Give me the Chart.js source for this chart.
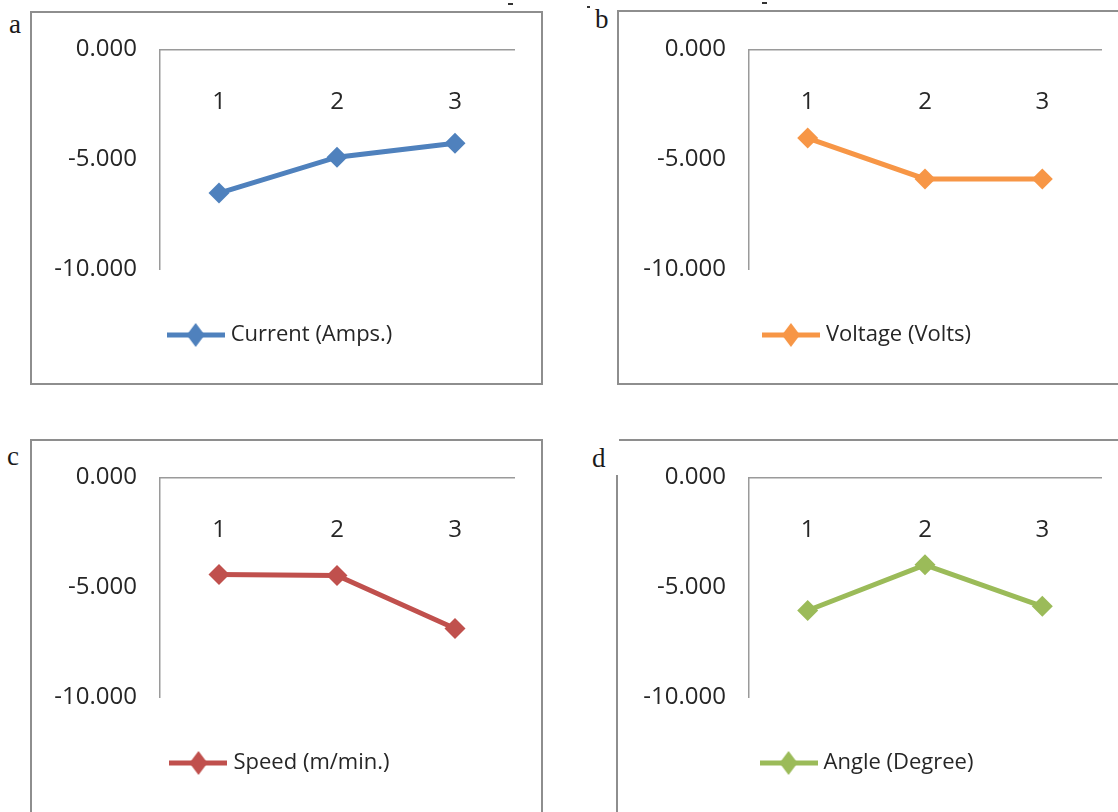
<!DOCTYPE html>
<html>
<head>
<meta charset="utf-8">
<script src="https://cdn.jsdelivr.net/npm/chart.js@4/dist/chart.umd.min.js"></script>
<style>
  html, body { margin: 0; padding: 0; background: #ffffff; width: 1118px; height: 812px; overflow: hidden; }
  .cv { position: absolute; }
  .frame { position: absolute; border-color: #8e8e8e; border-style: solid; border-width: 0; }
  .letter { position: absolute; font-family: 'Liberation Serif', 'DejaVu Serif', serif; font-size: 27px; color: #1a1a1a; line-height: 1; }
  .dash { position: absolute; height: 2px; width: 5px; background: #333; }
</style>
</head>
<body>
<div class="frame" style="left:30px; top:11px; width:509px; height:370px; border-width:2px;"></div>
<div class="frame" style="left:617px; top:10px; width:520px; height:371px; border-width:2px 0 2px 2px;"></div>
<div class="frame" style="left:30px; top:439px; width:509px; height:390px; border-width:2px 2px 0 2px;"></div>
<div class="frame" style="left:619px; top:439px; width:520px; height:0px; border-width:2px 0 0 0;"></div>
<div class="frame" style="left:616px; top:475px; width:0px; height:360px; border-width:0 0 0 2px;"></div>
<div class="dash" style="left:508px; top:3px;"></div>
<div class="dash" style="left:587px; top:6px; width:3px;"></div>
<div class="dash" style="left:762px; top:2px;"></div>

<div class="letter" style="left:9px; top:11px;">a</div>
<div class="letter" style="left:595px; top:6px;">b</div>
<div class="letter" style="left:7px; top:443px;">c</div>
<div class="letter" style="left:592px; top:445px;">d</div>

<canvas id="ca" class="cv" width="491" height="371" style="left:50px; top:12px;"></canvas>
<canvas id="cb" class="cv" width="491" height="371" style="left:637px; top:12px;"></canvas>
<canvas id="cc" class="cv" width="491" height="371" style="left:50px; top:440px;"></canvas>
<canvas id="cd" class="cv" width="491" height="371" style="left:637px; top:440px;"></canvas>

<script>
// ---- data ----
const categories = ['1', '2', '3'];
const currentValues = [-6.54, -4.91, -4.27];
const voltageValues = [-4.04, -5.90, -5.90];
const speedValues   = [-4.42, -4.47, -6.88];
const angleValues   = [-6.06, -3.98, -5.87];
const seriesNames = ['Current (Amps.)', 'Voltage (Volts)', 'Speed (m/min.)', 'Angle (Degree)'];
const yMin = -10;
const yMax = 0;
const yStep = 5;

// ---- styles ----
const colors = ['#4F81BD', '#F79646', '#C0504D', '#9BBB59'];
const FONT = "'Open Sans', 'Liberation Sans', sans-serif";
const AXIS_COLOR = '#9a9a9a';
const TEXT_COLOR = '#262626';

function legendImage(color) {
  const c = document.createElement('canvas');
  c.width = 58; c.height = 26;
  const g = c.getContext('2d');
  g.strokeStyle = color; g.lineWidth = 5;
  g.beginPath(); g.moveTo(0, 13); g.lineTo(58, 13); g.stroke();
  g.fillStyle = color;
  g.beginPath(); g.moveTo(29, 1); g.lineTo(38, 13); g.lineTo(29, 25); g.lineTo(20, 13); g.closePath(); g.fill();
  return c;
}

function makeChart(id, name, values, color, yAxisWidth, padTop) {
  const img = legendImage(color);
  return new Chart(document.getElementById(id), {
    type: 'line',
    data: {
      labels: categories,
      datasets: [{
        label: name,
        data: values,
        borderColor: color,
        backgroundColor: color,
        borderWidth: 5,
        pointStyle: 'rectRot',
        pointRadius: 10.5,
        pointBorderWidth: 0,
        pointBackgroundColor: color,
        tension: 0,
        fill: false
      }]
    },
    options: {
      responsive: false,
      animation: false,
      events: [],
      layout: { padding: { left: 0, right: 27, top: padTop, bottom: 27 } },
      plugins: {
        tooltip: { enabled: false },
        legend: {
          display: true,
          position: 'bottom',
          labels: {
            usePointStyle: true,
            pointStyleWidth: 48,
            padding: 55,
            color: TEXT_COLOR,
            font: { family: FONT, size: 22 },
            generateLabels: (chart) => chart.data.datasets.map((ds, i) => ({
              text: ds.label,
              fillStyle: ds.borderColor,
              strokeStyle: ds.borderColor,
              lineWidth: 0,
              pointStyle: img,
              hidden: false,
              datasetIndex: i,
              fontColor: TEXT_COLOR
            }))
          }
        }
      },
      scales: {
        x: {
          type: 'category',
          position: { y: 0 },
          offset: true,
          grid: { display: false, drawTicks: false },
          border: { display: true, color: AXIS_COLOR, width: 1.5 },
          ticks: { padding: 38, color: TEXT_COLOR, font: { family: FONT, size: 24 }, maxRotation: 0 }
        },
        y: {
          min: yMin,
          max: yMax,
          grid: { display: false, drawTicks: false },
          border: { display: true, color: AXIS_COLOR, width: 1.5 },
          ticks: {
            stepSize: yStep,
            padding: 23,
            color: TEXT_COLOR,
            font: { family: FONT, size: 24 },
            callback: (v) => (Math.abs(v) < 1e-9 ? 0 : v).toFixed(3)
          },
          afterFit: (scale) => { scale.width = yAxisWidth; }
        }
      }
    }
  });
}

makeChart('ca', seriesNames[0], currentValues, colors[0], 110, 35);
makeChart('cb', seriesNames[1], voltageValues, colors[1], 112, 35);
makeChart('cc', seriesNames[2], speedValues, colors[2], 110, 37);
makeChart('cd', seriesNames[3], angleValues, colors[3], 112, 37);
</script>
</body>
</html>
